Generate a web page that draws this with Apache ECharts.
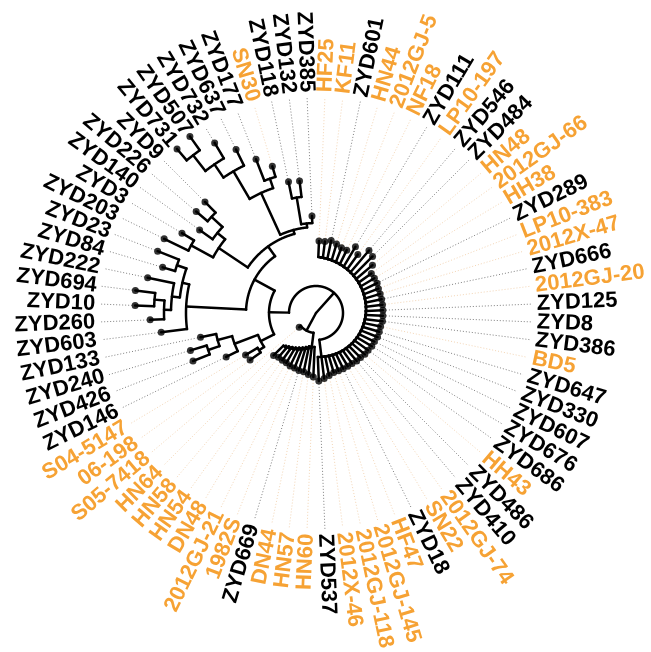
<!DOCTYPE html>
<html>
<head>
<meta charset="utf-8">
<script src="https://cdn.jsdelivr.net/npm/echarts@6/dist/echarts.min.js"></script>
<style>
  html, body { margin: 0; padding: 0; background: #ffffff; }
  #main { width: 651px; height: 652px; }
</style>
</head>
<body>
<div id="main"></div>
<script>
// ---- Tree data (Newick pieces, branch lengths) ----
const lowerLeftClade = '((06-198:13,S04-5147:14):6,(ZYD146:13,((ZYD426:18,ZYD240:17):12,ZYD133:16):15):25)';
const leftMidClade = '(ZYD603:26,(((ZYD260:14,(ZYD10:19,ZYD694:20):10):7,ZYD222:27):8,(ZYD84:13,ZYD23:23):10):7)';
const upperLeftClade = '(((ZYD203:27,ZYD3:14):25,(ZYD140:16,(ZYD226:15,ZYD9:15):15):10):35,' +
  '(((((ZYD731:15,ZYD507:17):20,ZYD732:18):16,ZYD637:18):32,(ZYD177:23,SN30:11):10):46,' +
  '((ZYD118:17,ZYD132:16):27,ZYD385:7):4):4)';
const rightClade = '((((((' + '((((((' + '((((((' + '((((((' + '((((((' + '((((((' +
  '(HF25:16,KF11:16):0.33,ZYD601:18.3):0.33,HN44:16.7):0.33,2012GJ-5:15):0.33,NF18:15.3)' +
  ':0.33,ZYD111:22.7):0.33,LP10-197:18):0.33,ZYD546:28.3):0.33,ZYD484:26.6):0.33,HN48:21)' +
  ':0.33,2012GJ-66:15.3):0.33,HH38:15.6):0.33,ZYD289:16):0.33,LP10-383:15.3):0.33,2012X-47:15.6)' +
  ':0.33,ZYD666:16):0.33,2012GJ-20:16.3):0.33,ZYD125:16.6):0.33,ZYD8:16.9):0.33,ZYD386:17.3)' +
  ':0.33,BD5:16.6):0.33,ZYD647:16.9):0.33,ZYD330:17.3):0.33,ZYD607:16.6):0.33,ZYD676:16.9)' +
  ':0.33,ZYD686:16.3):0.33,HH43:16.6):0.33,ZYD486:15.9):0.33,ZYD410:16.2):0.33,2012GJ-74:15.6)' +
  ':0.33,SN22:15.9):0.33,ZYD18:16.2):0.33,HF47:16.6):0.33,2012GJ-145:16.9):0.33,2012GJ-118:19.2)' +
  ':0.33,2012X-46:21.6):0.33,ZYD537:23.9)';
const bottomClade = '(HN60:30,(HN57:26.5,(DN44:23,(ZYD669:21.5,(1982S:19,(2012GJ-21:17.5,(DN48:15,' +
  '(HN54:13.5,(HN58:12,HN64:14):1.5):1.5):1.5):1.5):1.5):1.5):1.5):1.5)';
const leftClade = `(${lowerLeftClade}:15,(${leftMidClade}:60,${upperLeftClade}:12):23)`;
const treeNewick = `((${leftClade}:20,${rightClade}:17.1):27,(${bottomClade}:14,S05-7418:2):20);`;

// tips drawn in orange
const orangeTips = ['HN60', 'HN57', 'DN44', '1982S', '2012GJ-21', 'DN48', 'HN54', 'HN58', 'HN64',
  'S05-7418', '06-198', 'S04-5147', 'SN30', 'HF25', 'KF11', 'HN44', '2012GJ-5', 'NF18', 'LP10-197',
  'HN48', '2012GJ-66', 'HH38', 'LP10-383', '2012X-47', '2012GJ-20', 'BD5', 'HH43', '2012GJ-74',
  'SN22', 'HF47', '2012GJ-145', '2012GJ-118', '2012X-46'];

const ORANGE = '#f6a234';
const LABEL_R = 221;
const GUIDE_END = 216;

// ---- Newick parsing and circular layout ----
function parseNewick(str) {
  const tokens = str.split(/\s*([(),:;])\s*/).filter(t => t.length);
  let i = 0;
  const isPunct = t => t.length === 1 && '(),:;'.indexOf(t) >= 0;
  function node() {
    const n = { children: [], name: '', len: 0 };
    if (tokens[i] === '(') {
      i++;
      n.children.push(node());
      while (tokens[i] === ',') { i++; n.children.push(node()); }
      i++;
    }
    if (tokens[i] !== undefined && !isPunct(tokens[i])) { n.name = tokens[i]; i++; }
    if (tokens[i] === ':') { i++; n.len = parseFloat(tokens[i]); i++; }
    return n;
  }
  return node();
}

const root = parseNewick(treeNewick);
const tips = [];
function layout(n, parentH) {
  n.h = parentH + n.len;
  if (!n.children.length) {
    n.a = tips.length + 0.5;
    tips.push(n);
  } else {
    n.children.forEach(c => layout(c, n.h));
    n.a = n.children.reduce((s, c) => s + c.a, 0) / n.children.length;
  }
}
root.len = 0;
layout(root, 0);

const radialData = [];   // [fromH, angle, toH]
const arcData = [];      // [h, startAngle, endAngle]
(function collect(n) {
  if (n.children.length) {
    arcData.push([n.h, n.children[0].a, n.children[n.children.length - 1].a]);
    n.children.forEach(c => {
      radialData.push([n.h, c.a, c.h]);
      collect(c);
    });
  }
})(root);

const tipPointData = tips.map(t => [t.h, t.a]);
const guideData = tips.map((t, i) => [t.h, t.a, GUIDE_END, i]);
const labelData = tips.map((t, i) => [LABEL_R, t.a, i]);
const isOrange = name => orangeTips.indexOf(name) >= 0;

// ---- Chart ----
const chart = echarts.init(document.getElementById('main'));
const N = tips.length;
// HN60 sits half a slot to the left of the bottom
const startAngle = -90 - (360 / N) * 0.5 + (tips.findIndex(t => t.name === 'HN60') + 0.5) * 360 / N;
const TREE_W = 2.5;

chart.setOption({
  animation: false,
  backgroundColor: '#ffffff',
  polar: { center: [316, 313], radius: 230 },
  angleAxis: { type: 'value', min: 0, max: N, startAngle: startAngle, clockwise: true, show: false },
  radiusAxis: { type: 'value', min: 0, max: 230, show: false },
  series: [
    {
      type: 'custom', coordinateSystem: 'polar', data: guideData, z: 1,
      renderItem: (params, api) => {
        const a = api.value(1);
        const p0 = api.coord([api.value(0), a]);
        const p1 = api.coord([api.value(2), a]);
        const name = tips[api.value(3)].name;
        return {
          type: 'line',
          shape: { x1: p0[0], y1: p0[1], x2: p1[0], y2: p1[1] },
          style: { stroke: isOrange(name) ? '#f4d6b6' : '#808080', lineWidth: 1, lineDash: [1, 2] }
        };
      }
    },
    {
      type: 'custom', coordinateSystem: 'polar', data: arcData, z: 2,
      renderItem: (params, api) => {
        const h = api.value(0), a0 = api.value(1), a1 = api.value(2);
        const steps = Math.max(2, Math.ceil(Math.abs(a1 - a0) / 0.05));
        const pts = [];
        for (let k = 0; k <= steps; k++) pts.push(api.coord([h, a0 + (a1 - a0) * k / steps]));
        return { type: 'polyline', shape: { points: pts }, style: { stroke: '#000', lineWidth: TREE_W, fill: null, lineCap: 'round' } };
      }
    },
    {
      type: 'custom', coordinateSystem: 'polar', data: radialData, z: 2,
      renderItem: (params, api) => {
        const a = api.value(1);
        const p0 = api.coord([api.value(0), a]);
        const p1 = api.coord([api.value(2), a]);
        return { type: 'line', shape: { x1: p0[0], y1: p0[1], x2: p1[0], y2: p1[1] }, style: { stroke: '#000', lineWidth: TREE_W, lineCap: 'round' } };
      }
    },
    {
      type: 'scatter', coordinateSystem: 'polar', data: tipPointData, z: 3,
      symbol: 'circle', symbolSize: 7, itemStyle: { color: '#000' }, silent: true
    },
    {
      type: 'custom', coordinateSystem: 'polar', data: labelData, z: 4,
      renderItem: (params, api) => {
        const tip = tips[api.value(2)];
        const p = api.coord([api.value(0), api.value(1)]);
        const cs = params.coordSys;
        const dx = p[0] - cs.cx, dy = p[1] - cs.cy;
        const ang = Math.atan2(-dy, dx);
        const right = dx >= 0;
        return {
          type: 'text', x: p[0], y: p[1], rotation: right ? ang : ang + Math.PI,
          style: {
            text: tip.name,
            fill: isOrange(tip.name) ? ORANGE : '#000',
            font: 'bold 22px "Liberation Sans", Arial, sans-serif',
            align: right ? 'left' : 'right',
            verticalAlign: 'middle'
          }
        };
      }
    }
  ]
});
</script>
</body>
</html>
